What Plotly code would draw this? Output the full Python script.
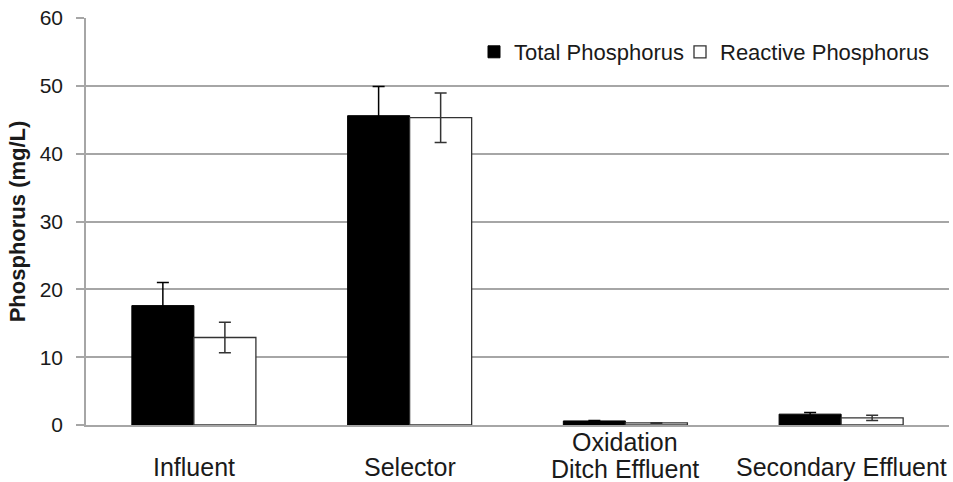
import plotly.graph_objects as go

# Sampling points along the treatment train
categories = ["Influent", "Selector", "Oxidation<br>Ditch Effluent", "Secondary Effluent"]

# Mean concentrations (mg/L) and standard deviations
total_p = [17.6, 45.6, 0.6, 1.6]
total_p_sd = [3.4, 4.3, 0.05, 0.25]
reactive_p = [12.9, 45.3, 0.3, 1.05]
reactive_p_sd = [2.25, 3.65, 0.05, 0.4]

y_ticks = [0, 10, 20, 30, 40, 50, 60]

FONT = "Liberation Sans, Arial, Helvetica, sans-serif"
TEXT = "#1a1a1a"
GRID = "#a6a6a6"
EDGE = "#333333"

PLOT_LEFT, PLOT_RIGHT = 86, 949
PLOT_TOP, PLOT_BOTTOM = 18, 425
PLOT_W = PLOT_RIGHT - PLOT_LEFT
PLOT_H = PLOT_BOTTOM - PLOT_TOP

fig = go.Figure()
fig.add_trace(go.Bar(
    name="Total Phosphorus",
    x=categories, y=total_p,
    marker=dict(color="black", line=dict(color="black", width=1)),
    error_y=dict(type="data", array=total_p_sd, visible=True,
                 color="black", thickness=1.5, width=6),
    legend="legend", showlegend=True,
))
fig.add_trace(go.Bar(
    name="Reactive Phosphorus",
    x=categories, y=reactive_p,
    marker=dict(color="white", line=dict(color=EDGE, width=1.3)),
    error_y=dict(type="data", array=reactive_p_sd, visible=True,
                 color=EDGE, thickness=1.5, width=6),
    legend="legend2", showlegend=True,
))

# Category labels, each block vertically centred under its group
LINE_STEP = 27
for cat in categories:
    lines = cat.split("<br>")
    first = 467 - 25 * (len(lines) - 1)
    for i, line in enumerate(lines):
        ypix = first + i * LINE_STEP
        fig.add_annotation(
            x=cat, xref="x", y=(PLOT_BOTTOM - ypix) / PLOT_H, yref="paper",
            text=line, showarrow=False, xanchor="center", yanchor="middle",
            font=dict(family=FONT, size=25, color=TEXT),
        )


def legend_box(text_left_px):
    # one-entry legend whose label starts at the given pixel column
    return dict(
        visible=True,
        x=(text_left_px - 40 - PLOT_LEFT) / PLOT_W, xanchor="left",
        y=(PLOT_BOTTOM - 52) / PLOT_H, yanchor="middle",
        font=dict(family=FONT, size=22, color=TEXT),
        bgcolor="rgba(0,0,0,0)", itemwidth=30,
    )


fig.update_layout(
    width=953, height=482,
    margin=dict(l=PLOT_LEFT, r=953 - PLOT_RIGHT, t=PLOT_TOP, b=482 - PLOT_BOTTOM),
    paper_bgcolor="white", plot_bgcolor="white",
    barmode="group", bargap=0.425, bargroupgap=0,
    font=dict(family=FONT, size=21, color=TEXT),
    showlegend=True,
    legend=legend_box(514),
    legend2=legend_box(720),
    xaxis=dict(
        showticklabels=False, ticks="", showgrid=False,
        showline=True, linecolor=GRID, linewidth=1.5,
    ),
    yaxis=dict(
        range=[0, 60], tickvals=y_ticks,
        showgrid=True, gridcolor=GRID, gridwidth=1.5,
        showline=True, linecolor=GRID, linewidth=1.5,
        ticks="outside", ticklen=8, tickcolor=GRID, tickwidth=1.5,
        ticklabelstandoff=9,
        tickfont=dict(family=FONT, size=21, color=TEXT),
        zeroline=False,
        title=dict(text="<b>Phosphorus (mg/L)</b>", standoff=8,
                   font=dict(family=FONT, size=22, color=TEXT)),
    ),
)

fig.write_html("out.html")
